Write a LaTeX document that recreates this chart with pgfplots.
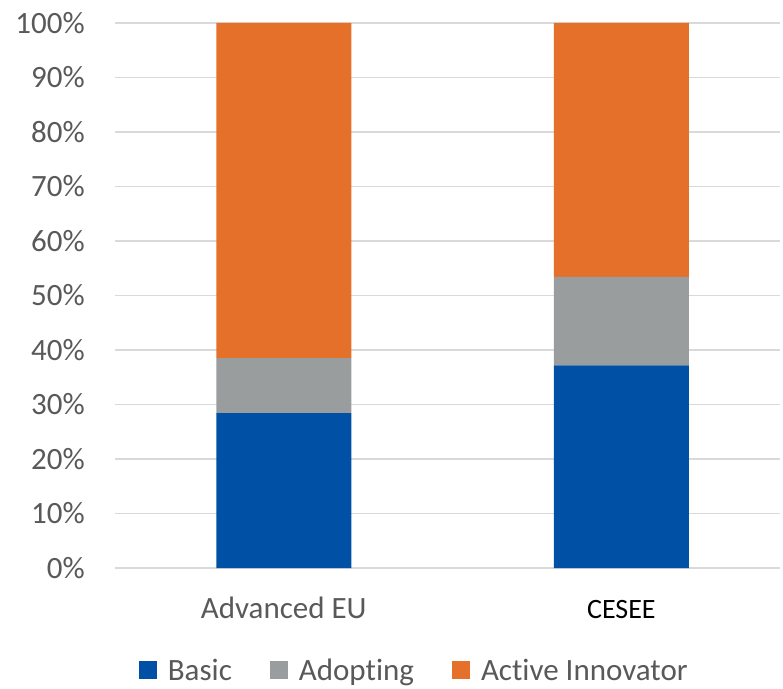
\documentclass[border=0pt]{standalone}
\usepackage{fontspec}
\setmainfont[Ligatures=NoCommon]{Carlito}
\usepackage{pgfplots}
\pgfplotsset{compat=1.18}
\definecolor{cBasic}{HTML}{0050A5}
\definecolor{cAdopt}{HTML}{9A9D9E}
\definecolor{cActive}{HTML}{E5702A}
\definecolor{cText}{HTML}{595959}
\definecolor{cGrid}{HTML}{D9D9D9}
\begin{document}
\begin{tikzpicture}
\begin{axis}[
  scale only axis,
  width=665pt, height=545pt,
  ybar stacked,
  bar width=135pt,
  ymin=0, ymax=100,
  xmin=-0.5, xmax=1.47,
  xtick=data,
  xticklabels={Advanced EU,{\color{black}\fontsize{28}{30}\selectfont CESEE}},
  ytick={0,10,...,100},
  yticklabel={\pgfmathprintnumber{\tick}\%},
  /pgf/number format/assume math mode=true,
  ymajorgrids,
  grid style={cGrid, line width=1.5pt},
  axis line style={draw=none},
  major tick length=0pt,
  tick label style={font=\fontsize{31}{34}\selectfont, text=cText},
  yticklabel style={inner sep=0pt, xshift=-30pt},
  xticklabel style={inner sep=0pt, yshift=-50pt, anchor=base},
  clip=false,
  legend columns=3,
  legend style={draw=none, at={(0.45,-0.188)}, anchor=center,
    font=\fontsize{31}{34}\selectfont, text=cText,
    /tikz/every odd column/.append style={column sep=9pt},
    /tikz/every even column/.append style={column sep=36pt}},
  legend image code/.code={\fill[#1,draw=none] (0pt,-9pt) rectangle (18pt,9pt);},
  legend cell align=left,
]
\addplot[fill=cBasic, draw=none] coordinates {(0,28.4) (1,37.2)};
\addplot[fill=cAdopt, draw=none] coordinates {(0,10.1) (1,16.2)};
\addplot[fill=cActive, draw=none] coordinates {(0,61.5) (1,46.6)};
\legend{Basic,Adopting,Active Innovator}
\coordinate (bbA) at (axis description cs:-0.1729,-0.2202);
\coordinate (bbB) at (axis description cs:1.0045,1.0422);
\end{axis}
\pgfresetboundingbox
\useasboundingbox (bbA) rectangle (bbB);
\end{tikzpicture}
\end{document}
